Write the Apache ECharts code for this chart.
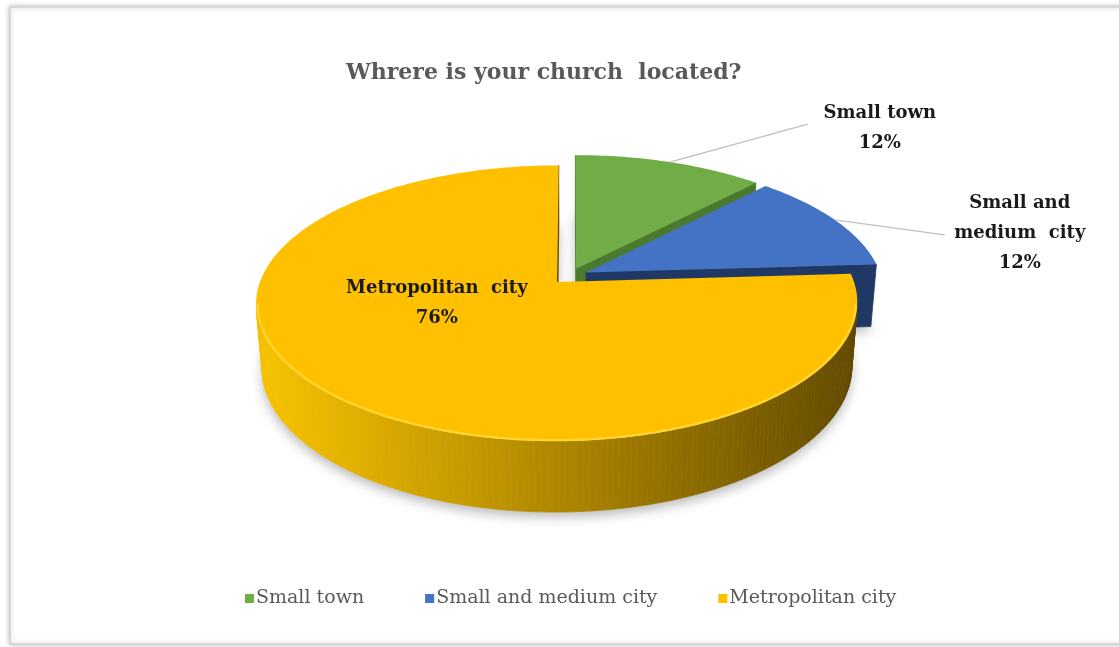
<!DOCTYPE html>
<html>
<head>
<meta charset="utf-8">
<style>
  html, body { margin: 0; padding: 0; background: #ffffff; }
  #chart { width: 1119px; height: 647px; }
</style>
<script src="https://cdn.jsdelivr.net/npm/echarts@6/dist/echarts.min.js"></script>
</head>
<body>
<div id="chart"></div>
<script>
// Survey answers: where the church is located (share of respondents, %)
const categories = ['Small town', 'Small and medium city', 'Metropolitan city'];
const shares = [12, 12, 76];
const titleText = 'Whrere is your church  located?';

// Face colours of each slice: top, side wall, and the light / dark ends of the wall shading
const topColors  = ['#70AD47', '#4472C4', '#FFC000'];
const wallColors = ['#4B7A2E', '#1F3864', null];
const wallLight  = [245, 192, 0];
const wallDark   = [94, 70, 0];

// ---- 3D pie camera -------------------------------------------------------
const SCALE = 295;          // screen radius of the disc (px)
const PERSP = 0.171;        // disc radius / camera distance
const SIN_A = 0.45, COS_A = Math.sqrt(1 - 0.45 * 0.45);   // viewing elevation
const THICK = 0.243;        // disc thickness, in radii
const EXPLODE = 0.062;      // slice explosion, in radii
const CX = 569.6, CY = 276;
const CAM = [0, COS_A / PERSP, SIN_A / PERSP];
const STEP = Math.PI / 180;

function project(u, v, h) {
  const den = 1 - PERSP * (v * COS_A + h * SIN_A);
  return [CX + SCALE * u / den, CY + SCALE * (v * SIN_A - h * COS_A) / den];
}

// slice angles, clockwise from 12 o'clock
const total = shares.reduce((a, b) => a + b, 0);
const bounds = [];
shares.reduce((acc, s) => {
  const a = acc / total * Math.PI * 2;
  const b = (acc + s) / total * Math.PI * 2;
  bounds.push([a, b]);
  return acc + s;
}, 0);

function sliceCenter(i) {
  const m = (bounds[i][0] + bounds[i][1]) / 2;
  return [EXPLODE * Math.sin(m), -EXPLODE * Math.cos(m)];
}
function rimPoint(i, theta, rho, h) {
  const c = sliceCenter(i);
  return project(c[0] + rho * Math.sin(theta), c[1] - rho * Math.cos(theta), h);
}
function facing(n, p) {
  return n[0] * (CAM[0] - p[0]) + n[1] * (CAM[1] - p[1]) + n[2] * (CAM[2] - p[2]) > 0;
}
function shade(theta) {
  // light coming from the left and a little from the front
  const l = [-0.949, 0.316];
  const d = Math.sin(theta) * l[0] + (-Math.cos(theta)) * l[1];
  const s = Math.pow(Math.max(0, Math.min(1, (d + 1) / 2)), 1.5);
  const c = wallLight.map((x, k) => Math.round(wallDark[k] + (x - wallDark[k]) * s));
  return 'rgb(' + c.join(',') + ')';
}

function renderSlice(params, api) {
  const i = params.seriesIndex;
  const a = bounds[i][0], b = bounds[i][1];
  const c = sliceCenter(i);
  const n = Math.max(2, Math.ceil((b - a) / STEP));
  const thetas = [];
  for (let k = 0; k <= n; k++) thetas.push(a + (b - a) * k / n);
  const children = [];

  const apexTop = project(c[0], c[1], 0);
  const apexBot = project(c[0], c[1], -THICK);

  // soft drop shadow under the slice
  const silhouette = [apexBot].concat(thetas.map(t => rimPoint(i, t, 1, -THICK)));
  children.push({
    type: 'polygon', z2: 1,
    shape: { points: silhouette },
    style: { fill: '#ffffff', shadowBlur: 12, shadowOffsetY: 5, shadowColor: 'rgba(0,0,0,0.28)' }
  });

  // outer curved wall, drawn as thin strips
  for (let k = 0; k < n; k++) {
    const t0 = thetas[k], t1 = thetas[k + 1], tm = (t0 + t1) / 2;
    const nrm = [Math.sin(tm), -Math.cos(tm), 0];
    const p = [c[0] + Math.sin(tm), c[1] - Math.cos(tm), -THICK / 2];
    if (!facing(nrm, p)) continue;
    const col = wallColors[i] || shade(tm);
    children.push({
      type: 'polygon', z2: Math.round(500 + p[1] * 100),
      shape: { points: [rimPoint(i, t0, 1, 0), rimPoint(i, t1, 1, 0), rimPoint(i, t1, 1, -THICK), rimPoint(i, t0, 1, -THICK)] },
      style: { fill: col, stroke: col, lineWidth: 0.8 }
    });
  }

  // radial cut walls
  [[a, -1], [b, 1]].forEach(([t, sgn]) => {
    const nrm = [sgn * Math.cos(t), sgn * Math.sin(t), 0];
    const mid = [c[0] + 0.5 * Math.sin(t), c[1] - 0.5 * Math.cos(t), -THICK / 2];
    if (!facing(nrm, mid)) return;
    const col = wallColors[i] || shade(t + sgn * Math.PI / 2);
    children.push({
      type: 'polygon', z2: Math.round(500 + mid[1] * 100),
      shape: { points: [apexTop, rimPoint(i, t, 1, 0), rimPoint(i, t, 1, -THICK), apexBot] },
      style: { fill: col, stroke: col, lineWidth: 0.8 }
    });
  });

  // top face
  const topPts = [apexTop].concat(thetas.map(t => rimPoint(i, t, 1, 0)));
  children.push({
    type: 'polygon', z2: 1000,
    shape: { points: topPts },
    style: { fill: topColors[i] }
  });
  if (i === 2) {
    // bevel highlight along the front rim
    const rim = thetas.filter(t => Math.cos(t) < -0.15).map(t => rimPoint(i, t, 0.995, 0));
    children.push({
      type: 'polyline', z2: 1001,
      shape: { points: rim },
      style: { stroke: '#FFD633', lineWidth: 2.2, fill: null }
    });
  }

  // data label
  const pct = shares[i] + '%';
  const labelFont = { fontFamily: 'DejaVu Serif', fontWeight: 'bold', fontSize: 18, fill: '#1a1a1a', align: 'center', lineHeight: 30 };
  if (i === 2) {
    const p = rimPoint(i, 250 * Math.PI / 180, 0.42, 0);
    children.push({
      type: 'text', z2: 2000,
      style: Object.assign({ text: 'Metropolitan  city\n' + pct, x: p[0], y: p[1] + 2, verticalAlign: 'middle' }, labelFont)
    });
  } else {
    const m = (a + b) / 2;
    const p = rimPoint(i, m, 1, 0);
    const lead = i === 0 ? [138, -38] : [110, 15];
    const txt  = i === 0 ? [210, -34] : [185, 13];
    const words = i === 0 ? 'Small town' : 'Small and\nmedium  city';
    children.push({
      type: 'line', z2: 2000,
      shape: { x1: p[0], y1: p[1], x2: p[0] + lead[0], y2: p[1] + lead[1] },
      style: { stroke: '#bfbfbf', lineWidth: 1.2 }
    });
    children.push({
      type: 'text', z2: 2000,
      style: Object.assign({ text: words + '\n' + pct, x: p[0] + txt[0], y: p[1] + txt[1], verticalAlign: 'middle' }, labelFont)
    });
  }
  return { type: 'group', children: children };
}

const chart = echarts.init(document.getElementById('chart'));
chart.setOption({
  backgroundColor: '#ffffff',
  animation: false,
  title: {
    text: titleText,
    left: 341, top: 57,
    textStyle: { fontFamily: 'DejaVu Serif', fontWeight: 'bold', fontSize: 22, color: '#595959' }
  },
  legend: {
    bottom: 34, left: 240,
    itemWidth: 9, itemHeight: 9, itemGap: 61, icon: 'rect',
    textStyle: { fontFamily: 'DejaVu Serif', fontSize: 19, color: '#595959', padding: [0, 0, 0, -3] },
    data: categories
  },
  graphic: [{
    type: 'rect', z: -10,
    shape: { x: 10, y: 7, width: 1130, height: 637 },
    style: { fill: '#ffffff', stroke: '#d4d4d4', lineWidth: 1.5, shadowBlur: 5, shadowColor: 'rgba(0,0,0,0.25)' }
  }],
  series: categories.map((name, i) => ({
    type: 'custom',
    name: name,
    coordinateSystem: 'none',
    itemStyle: { color: topColors[i] },
    renderItem: renderSlice,
    data: [shares[i]]
  }))
});
</script>
</body>
</html>
